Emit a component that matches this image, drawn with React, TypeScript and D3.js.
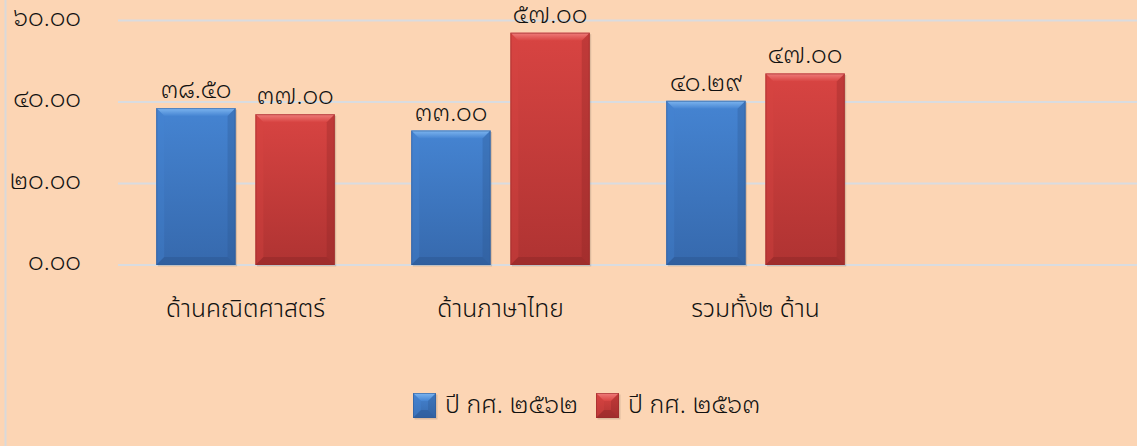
import React from "react";
import * as d3 from "d3";

const categories = ["ด้านคณิตศาสตร์", "ด้านภาษาไทย", "รวมทั้ง๒ ด้าน"];
const series2562 = [38.5, 33.0, 40.29];
const series2563 = [37.0, 57.0, 47.0];
const valueLabels2562 = ["๓๘.๕๐", "๓๓.๐๐", "๔๐.๒๙"];
const valueLabels2563 = ["๓๗.๐๐", "๕๗.๐๐", "๔๗.๐๐"];
const yTicks = [0, 20, 40, 60];
const yTickLabels = ["๐.๐๐", "๒๐.๐๐", "๔๐.๐๐", "๖๐.๐๐"];
const seriesPrefix = ["ปี กศ. ", "ปี กศ. "];
const seriesYears = ["๒๕๖๒", "๒๕๖๓"];
const slotCount = 4;

const W = 1137;
const H = 446;
const NUM_FONT = "'Noto Sans Thai Looped', 'Noto Sans Thai', sans-serif";
const TXT_FONT = "'Noto Sans Thai', sans-serif";

const palettes = [
  { top: "#4584D2", bottom: "#3669AD", light: "#7EB6F0", dark: "#2B558E", edge: "#2F5C99" },
  { top: "#D84442", bottom: "#AF3332", light: "#F07E7C", dark: "#8C2626", edge: "#9A2C2C" },
];

function Bar({ x, y, w, h, p, id }: any) {
  const b = Math.min(8, h / 2);
  return (
    <g>
      <rect x={x + 1.5} y={y + 1.5} width={w} height={h} fill="rgba(0,0,0,0.12)" />
      <rect x={x} y={y} width={w} height={h} fill={`url(#body${id})`} />
      <polygon points={`${x},${y} ${x + w},${y} ${x + w - b},${y + b} ${x + b},${y + b}`} fill={`url(#topb${id})`} />
      <polygon points={`${x},${y} ${x + b},${y + b} ${x + b},${y + h - b} ${x},${y + h}`} fill={p.top} opacity={0.35} />
      <polygon points={`${x + w},${y} ${x + w - b},${y + b} ${x + w - b},${y + h - b} ${x + w},${y + h}`} fill={p.dark} opacity={0.3} />
      <polygon points={`${x},${y + h} ${x + b},${y + h - b} ${x + w - b},${y + h - b} ${x + w},${y + h}`} fill={p.dark} opacity={0.45} />
      <rect x={x + 0.5} y={y + 0.5} width={w - 1} height={h - 1} fill="none" stroke={p.edge} strokeWidth={1} opacity={0.6} />
    </g>
  );
}

export default function App() {
  const plotLeft = 118;
  const plotRight = 1138;
  const y = d3.scaleLinear().domain([0, 60]).range([265, 20.5]);
  const x0 = d3.scaleBand<number>().domain(d3.range(slotCount)).range([plotLeft, plotRight]).paddingInner(0.3).paddingOuter(0.15);
  const x1 = d3.scaleBand<number>().domain([0, 1]).range([0, x0.bandwidth()]).paddingInner(0.2);
  const all = [series2562, series2563];
  const labels = [valueLabels2562, valueLabels2563];
  const legendX = [413, 596];

  return (
    <svg width={W} height={H} style={{ position: "absolute", left: 0, top: 0 }}>
      <defs>
        {palettes.map((p, i) => (
          <React.Fragment key={i}>
            <linearGradient id={`body${i}`} x1="0" y1="0" x2="0" y2="1">
              <stop offset="0" stopColor={p.top} />
              <stop offset="1" stopColor={p.bottom} />
            </linearGradient>
            <linearGradient id={`topb${i}`} x1="0" y1="0" x2="0" y2="1">
              <stop offset="0" stopColor={p.light} />
              <stop offset="1" stopColor={p.top} />
            </linearGradient>
          </React.Fragment>
        ))}
      </defs>
      <rect x={0} y={0} width={W} height={H} fill="#FCD5B4" />
      <line x1={5.5} x2={5.5} y1={0} y2={H} stroke="#D9D9D9" strokeWidth={2} />
      {yTicks.map((t, i) => (
        <g key={t}>
          <line x1={plotLeft} x2={W} y1={y(t)} y2={y(t)} stroke="#D9DCE0" strokeWidth={2} />
          <text x={81} y={y(t) + 5} textAnchor="end" fontSize={24.5} fontWeight={300} fontFamily={NUM_FONT} fill="#111">{yTickLabels[i]}</text>
        </g>
      ))}
      {categories.map((c, ci) => (
        <g key={c}>
          {all.map((s, si) => {
            const bx = (x0(ci) as number) + (x1(si) as number);
            const by = y(s[ci]);
            return (
              <g key={si}>
                <Bar x={bx} y={by} w={x1.bandwidth()} h={y(0) - by} p={palettes[si]} id={si} />
                <text x={bx + x1.bandwidth() / 2} y={by - 10} textAnchor="middle" fontSize={24.5} fontWeight={300} fontFamily={NUM_FONT} fill="#111">{labels[si][ci]}</text>
              </g>
            );
          })}
          <text x={(x0(ci) as number) + x0.bandwidth() / 2} y={317} textAnchor="middle" fontSize={24.6} fontWeight={300} fontFamily={TXT_FONT} fill="#111">{c}</text>
        </g>
      ))}
      {seriesYears.map((n, i) => {
        const lx = legendX[i];
        return (
          <g key={n}>
            <Bar x={lx} y={393} w={23} h={25} p={palettes[i]} id={i} />
            <text x={lx + 32} y={413} fontSize={25} fontWeight={300} fontFamily={TXT_FONT} fill="#111">
              {seriesPrefix[i]}
              <tspan fontFamily={NUM_FONT}>{n}</tspan>
            </text>
          </g>
        );
      })}
    </svg>
  );
}
